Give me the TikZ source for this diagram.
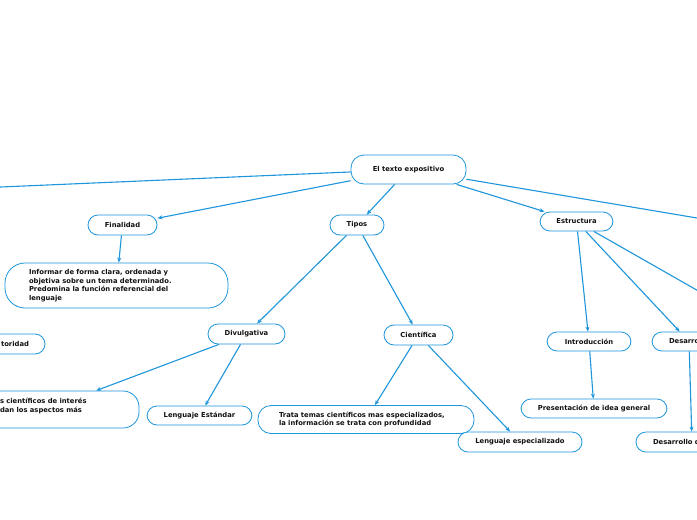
\documentclass[tikz,border=0pt]{standalone}
\usepackage{fontspec}
\setmainfont{DejaVu Sans}
\usetikzlibrary{arrows.meta,positioning}
\definecolor{mmBlue}{HTML}{1E96DC}
\definecolor{mmText}{HTML}{111111}

\begin{document}
\begin{tikzpicture}[x=1pt,y=-1pt,
      topic/.style={draw=mmBlue,line width=0.8pt,fill=white,rounded corners=10pt,
                    inner sep=0pt,text=mmText,align=center,
                    font=\fontsize{6.8}{8.6}\selectfont\bfseries},
      link/.style={-{Stealth[length=5pt,width=4pt]},mmBlue,line width=1.1pt}]

    \useasboundingbox (0,0) rectangle (697,520);
    \fill[white] (0,0) rectangle (697,520);
    \clip (0,0) rectangle (697,520);

    % main topic and first level
    \node[topic,minimum width=115,minimum height=29,rounded corners=13pt] (root) at (408.5,169.5) {El texto expositivo};
    \node[topic,minimum width=69,minimum height=20] (fin) at (122.5,225) {Finalidad};
    \node[topic,minimum width=54,minimum height=20] (tip) at (357,225) {Tipos};
    \node[topic,minimum width=73,minimum height=19] (est) at (576.5,221.5) {Estructura};
    \coordinate (offL)  at (-60,189.6);
    \coordinate (offR)  at (760,228.6);
    \coordinate (offR2) at (740,314.7);

    % second level
    \node[topic,minimum width=223,minimum height=45,rounded corners=20pt,text width=175,align=left]
      (inf) at (116.5,285.5) {Informar de forma clara, ordenada y\\objetiva sobre un tema determinado.\\Predomina la función referencial del\\lenguaje};
    \node[topic,minimum width=72,minimum height=20,text width=40,align=right] (aut) at (9,344) {toridad};
    \node[topic,minimum width=77,minimum height=20] (div) at (246.5,334) {Divulgativa};
    \node[topic,minimum width=69,minimum height=20] (cie) at (418.5,335) {Científica};
    \node[topic,minimum width=84,minimum height=19] (intro) at (589,341.5) {Introducción};
    \node[topic,minimum width=74,minimum height=19,text width=40,align=left] (des) at (689,341.5) {Desarro};

    % third level
    \node[topic,minimum width=186,minimum height=37,rounded corners=16pt,text width=92,align=left]
      (sci) at (46,409.5) {s científicos de interés\\dan los aspectos más\\~};
    \node[topic,minimum width=105,minimum height=19] (std) at (199.5,415.5) {Lenguaje Estándar};
    \node[topic,minimum width=216,minimum height=28,rounded corners=13pt,text width=174,align=left]
      (trata) at (366,419.5) {Trata temas científicos mas especializados,\\la información se trata con profundidad};
    \node[topic,minimum width=124,minimum height=20] (esp) at (520,442) {Lenguaje especializado};
    \node[topic,minimum width=146,minimum height=19] (pres) at (594,408.5) {Presentación de idea general};
    \node[topic,minimum width=112,minimum height=20,text width=78,align=left] (desd) at (692,442) {Desarrollo d};

    \foreach \a/\b in {root/fin,root/tip,root/est,fin/inf,tip/div,tip/cie,
                       est/intro,est/des,div/sci,div/std,cie/trata,cie/esp,
                       intro/pres,des/desd}
      \draw[link] (\a) -- (\b);
    \draw[link] (root) -- (offL);
    \draw[link] (root) -- (offR);
    \draw[link] (est) -- (offR2);
  \end{tikzpicture}
\end{document}
